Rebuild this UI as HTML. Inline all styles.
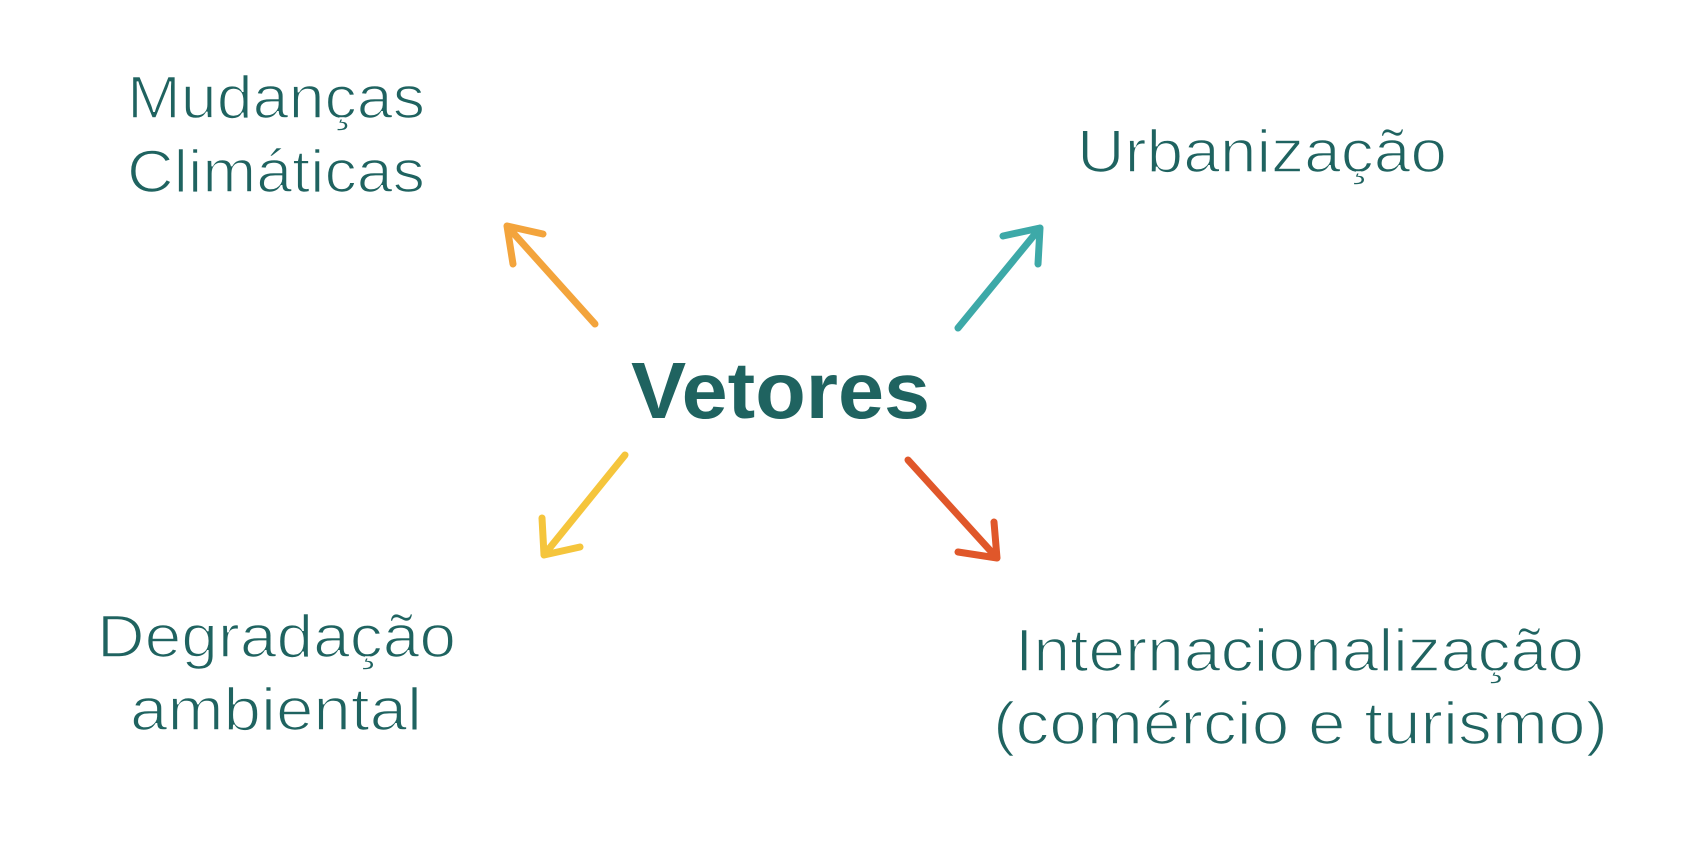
<!DOCTYPE html>
<html><head><meta charset="utf-8"><style>
html,body{margin:0;padding:0;background:#fff;}
svg{display:block;}
text{font-family:"Liberation Sans",sans-serif;fill:#1f6360;}
.t{stroke:#fff;stroke-width:1.6px;}
</style></head><body>
<svg width="1684" height="850" viewBox="0 0 1684 850">
<text class="t" x="127" y="118" font-size="60" textLength="298" lengthAdjust="spacingAndGlyphs">Mudanças</text>
<text class="t" x="127" y="192" font-size="60" textLength="298" lengthAdjust="spacingAndGlyphs">Climáticas</text>
<text class="t" x="1077" y="172" font-size="60" textLength="370" lengthAdjust="spacingAndGlyphs">Urbanização</text>
<text x="631" y="418" font-size="80" font-weight="bold" textLength="299" lengthAdjust="spacingAndGlyphs">Vetores</text>
<text class="t" x="97" y="657" font-size="60" textLength="359" lengthAdjust="spacingAndGlyphs">Degradação</text>
<text class="t" x="130" y="730" font-size="60" textLength="292" lengthAdjust="spacingAndGlyphs">ambiental</text>
<text class="t" x="1015" y="671" font-size="60" textLength="569" lengthAdjust="spacingAndGlyphs">Internacionalização</text>
<text class="t" x="993" y="744" font-size="60" textLength="615" lengthAdjust="spacingAndGlyphs">(comércio e turismo)</text>
<g fill="none" stroke-linecap="round" stroke-linejoin="round" stroke-width="7">
<path d="M595 324 L507 226 M507 226 L543 234 M507 226 L513 264" stroke="#f3a43c"/>
<path d="M958 328 L1040 228 M1040 228 L1003 236 M1040 228 L1038 264" stroke="#3da9a8"/>
<path d="M625 455 L544 555 M544 555 L580 547 M544 555 L542 518" stroke="#f5c53c"/>
<path d="M908 460 L997 558 M997 558 L958 552 M997 558 L994 522" stroke="#e0572a"/>
</g>
</svg>
</body></html>
